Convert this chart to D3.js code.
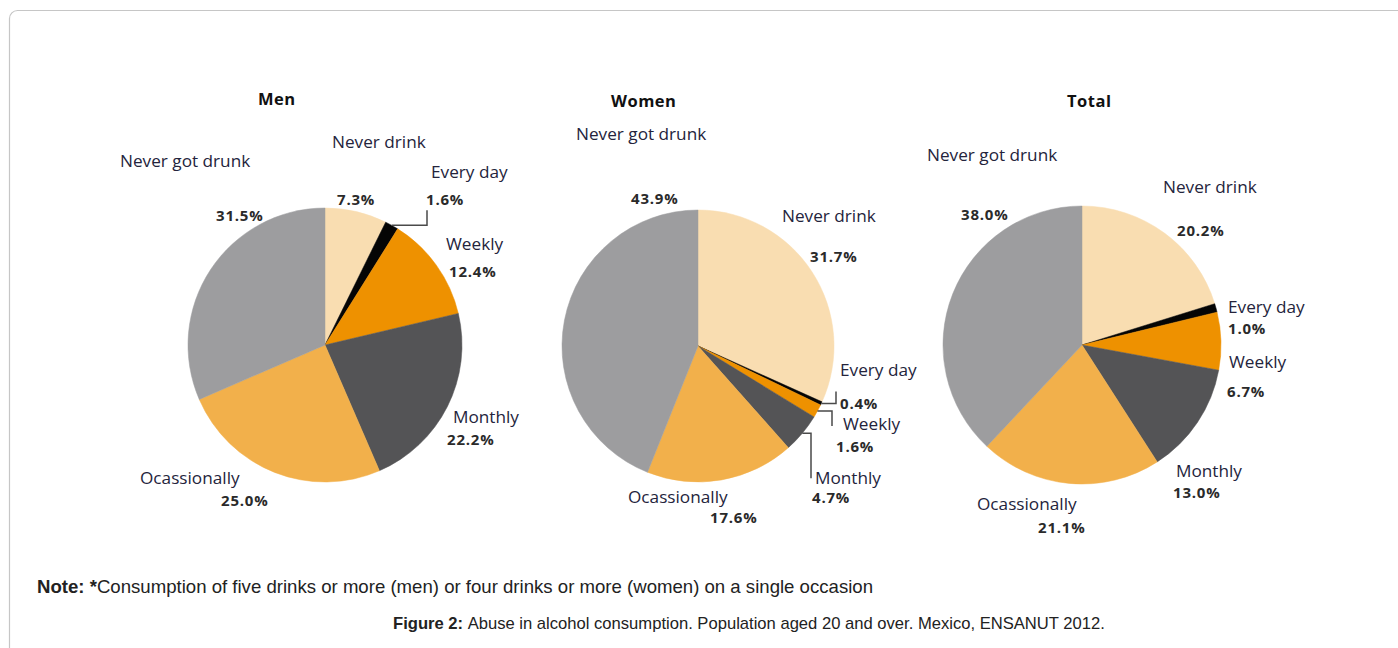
<!DOCTYPE html>
<html>
<head>
<meta charset="utf-8">
<script src="https://cdn.jsdelivr.net/npm/d3@7"></script>
<style>
  body { margin: 0; background: #fff; }
  svg { display: block; }
</style>
</head>
<body>
<svg id="chart" width="1398" height="648"></svg>
<script>
// categories in slice order (clockwise from 12 o'clock)
const categories = ["Never drink", "Every day", "Weekly", "Monthly", "Ocassionally", "Never got drunk"];
const chartTitles = ["Men", "Women", "Total"];
const menValues = [7.3, 1.6, 12.4, 22.2, 25.0, 31.5];
const womenValues = [31.7, 0.4, 1.6, 4.7, 17.6, 43.9];
const totalValues = [20.2, 1.0, 6.7, 13.0, 21.1, 38.0];
const allValues = [menValues, womenValues, totalValues];

const colors = {
  "Never drink": "#f9ddb1",
  "Every day": "#050505",
  "Weekly": "#ee9100",
  "Monthly": "#545456",
  "Ocassionally": "#f2b04b",
  "Never got drunk": "#9d9d9f"
};

// pie placement
const pies = [
  { cx: 325, cy: 345, r: 137, title: [258, 105] },
  { cx: 698, cy: 346, r: 136, title: [611, 107] },
  { cx: 1082, cy: 345, r: 139, title: [1067, 107] }
];

// label offsets from pie centre: [nameDx, nameDy, pctDx, pctDy]
const labelLayout = [
  {
    "Never got drunk": [-205, -178, -109, -124],
    "Never drink": [7, -197, 12, -140],
    "Every day": [106, -167, 101, -140],
    "Weekly": [121, -95, 124, -68],
    "Monthly": [128, 78, 122, 100],
    "Ocassionally": [-185, 139, -104, 161]
  },
  {
    "Never got drunk": [-122, -206, -67, -142],
    "Never drink": [84, -124, 112, -84],
    "Every day": [142, 30, 142, 63],
    "Weekly": [145, 84, 138, 106],
    "Monthly": [117, 138, 114, 157],
    "Ocassionally": [-70, 157, 12, 177]
  },
  {
    "Never got drunk": [-155, -184, -121, -125],
    "Never drink": [81, -152, 95, -109],
    "Every day": [146, -32, 146, -11],
    "Weekly": [147, 23, 145, 52],
    "Monthly": [94, 132, 91, 153],
    "Ocassionally": [-105, 165, -44, 188]
  }
];

// leader lines: from slice edge, horizontal to bendX (rel. to centre), then vertical by dy
const leaders = [
  { chart: 0, cat: "Every day", bendX: 102, dy: -15 },
  { chart: 1, cat: "Every day", bendX: 138, dy: -12 },
  { chart: 1, cat: "Weekly", bendX: 134, dy: 15 },
  { chart: 1, cat: "Monthly", bendX: 113, dy: 45 }
];

const svg = d3.select("#chart");

// outer frame
svg.append("rect")
  .attr("x", 9.5).attr("y", 10.5)
  .attr("width", 1400).attr("height", 680)
  .attr("rx", 8)
  .attr("fill", "none")
  .attr("stroke", "#c6c6c6")
  .attr("stroke-width", 1.2);

const pie = d3.pie().sort(null).value(d => d.value);

pies.forEach((p, i) => {
  const data = categories.map((c, j) => ({ cat: c, value: allValues[i][j] }));
  const arcs = pie(data);
  const arc = d3.arc().innerRadius(0).outerRadius(p.r);

  const g = svg.append("g").attr("transform", `translate(${p.cx},${p.cy})`);

  g.selectAll("path")
    .data(arcs)
    .enter()
    .append("path")
    .attr("d", arc)
    .attr("fill", d => colors[d.data.cat])
    .attr("stroke", d => colors[d.data.cat])
    .attr("stroke-width", 0.5);

  // title
  svg.append("text")
    .attr("x", p.title[0]).attr("y", p.title[1])
    .attr("font-family", "Open Sans, sans-serif")
    .attr("font-weight", "bold")
    .attr("font-size", 16.5)
    .attr("letter-spacing", 0.5)
    .attr("fill", "#111")
    .text(chartTitles[i]);

  // leader lines
  leaders.filter(l => l.chart === i).forEach(l => {
    const a = arcs.find(d => d.data.cat === l.cat);
    const mid = (a.startAngle + a.endAngle) / 2;
    const sx = Math.sin(mid) * p.r, sy = -Math.cos(mid) * p.r;
    g.append("path")
      .attr("d", d3.line()([[sx, sy], [l.bendX, sy], [l.bendX, sy + l.dy]]))
      .attr("fill", "none")
      .attr("stroke", "#4a4a4a")
      .attr("stroke-width", 1.5);
  });

  // labels
  const lg = g.selectAll(".lbl")
    .data(arcs)
    .enter()
    .append("g")
    .attr("class", "lbl");

  lg.append("text")
    .attr("x", d => labelLayout[i][d.data.cat][0])
    .attr("y", d => labelLayout[i][d.data.cat][1])
    .attr("font-family", "Open Sans, sans-serif")
    .attr("font-size", 17.2)
    .attr("fill", "#24243c")
    .text(d => d.data.cat);

  lg.append("text")
    .attr("x", d => labelLayout[i][d.data.cat][2])
    .attr("y", d => labelLayout[i][d.data.cat][3])
    .attr("font-family", "Open Sans, sans-serif")
    .attr("font-weight", "bold")
    .attr("font-size", 15)
    .attr("letter-spacing", 0.8)
    .attr("fill", "#2a2a2a")
    .text(d => d.data.value.toFixed(1) + "%");
});

// footnote and caption
const note = svg.append("text")
  .attr("x", 37).attr("y", 593)
  .attr("font-family", "Liberation Sans, Arial, sans-serif")
  .attr("font-size", 18.6)
  .attr("fill", "#222");
note.append("tspan").attr("font-weight", "bold").text("Note: *");
note.append("tspan").text("Consumption of five drinks or more (men) or four drinks or more (women) on a single occasion");

const cap = svg.append("text")
  .attr("x", 393).attr("y", 629)
  .attr("font-family", "Liberation Sans, Arial, sans-serif")
  .attr("font-size", 16.6)
  .attr("fill", "#222");
cap.append("tspan").attr("font-weight", "bold").text("Figure 2: ");
cap.append("tspan").text("Abuse in alcohol consumption. Population aged 20 and over. Mexico, ENSANUT 2012.");
</script>
</body>
</html>
